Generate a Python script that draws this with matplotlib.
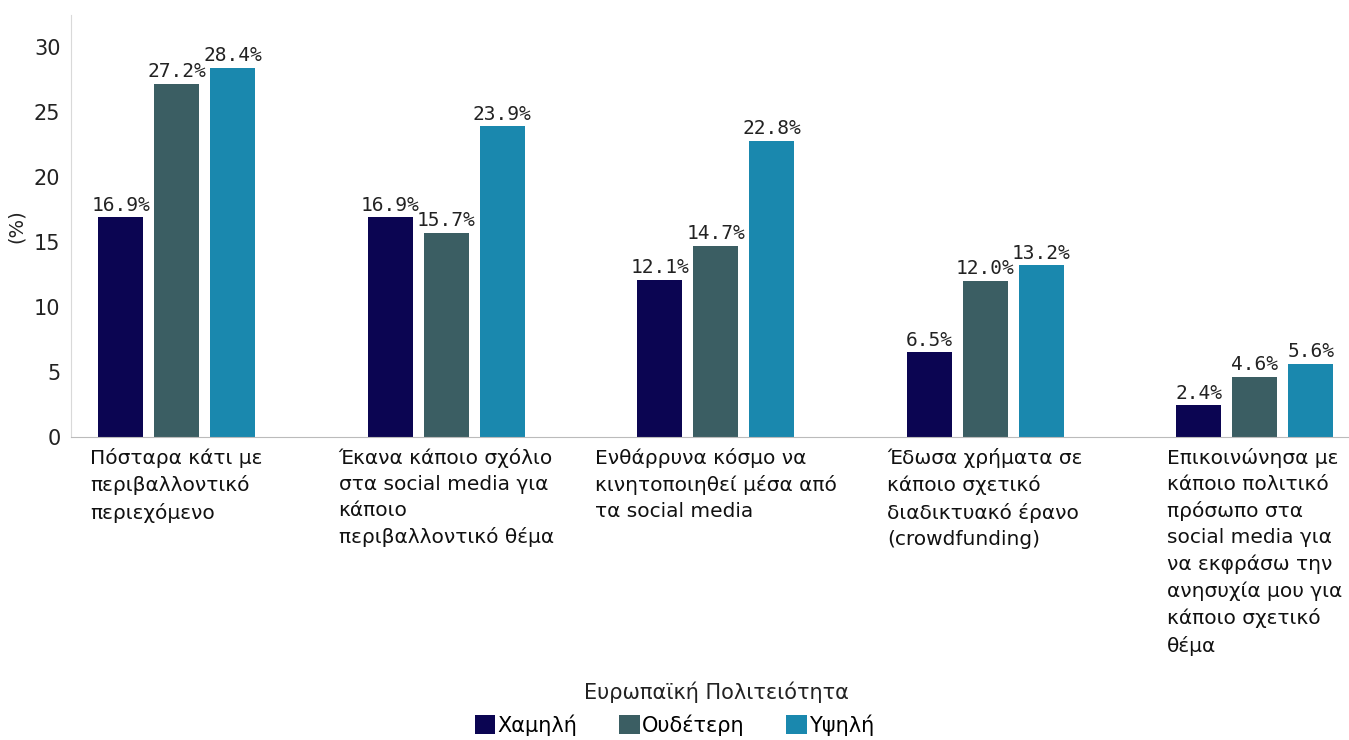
import matplotlib.pyplot as plt
import numpy as np

plt.rcParams['font.family'] = ['DejaVu Sans']

# data
categories = ['Πόσταρα κάτι με\nπεριβαλλοντικό\nπεριεχόμενο',
              'Έκανα κάποιο σχόλιο\nστα social media για\nκάποιο\nπεριβαλλοντικό θέμα',
              'Ενθάρρυνα κόσμο να\nκινητοποιηθεί μέσα από\nτα social media',
              'Έδωσα χρήματα σε\nκάποιο σχετικό\nδιαδικτυακό έρανο\n(crowdfunding)',
              'Επικοινώνησα με\nκάποιο πολιτικό\nπρόσωπο στα\nsocial media για\nνα εκφράσω την\nανησυχία μου για\nκάποιο σχετικό\nθέμα']
series = ['Χαμηλή', 'Ουδέτερη', 'Υψηλή']
low = [16.9, 16.9, 12.1, 6.5, 2.4]
neutral = [27.2, 15.7, 14.7, 12.0, 4.6]
high = [28.4, 23.9, 22.8, 13.2, 5.6]
colors = ['#0b0552', '#3b5e63', '#1a88ae']

fig = plt.figure(figsize=(13.49, 7.40), dpi=100)
ax = fig.add_axes([0.053, 0.41, 0.947, 0.57])

x = np.arange(len(categories))
w = 0.167
off = 0.208
for i, (vals, name) in enumerate(zip([low, neutral, high], series)):
    bars = ax.bar(x + (i - 1) * off, vals, width=w, color=colors[i], label=name, zorder=2)
    for b, v in zip(bars, vals):
        ax.text(b.get_x() + b.get_width() / 2, v + 0.2, '{:.1f}%'.format(v),
                ha='center', va='bottom', fontsize=14, color='#222222',
                family='DejaVu Sans Mono')

ax.set_xlim(-0.39, 4.35)
ax.set_ylim(0, 32.5)
ax.set_yticks(range(0, 31, 5))
ax.set_xticks(x)
ax.set_xticklabels(categories, fontsize=14.5, ha='center', va='top', multialignment='left',
                   color='#111111', linespacing=1.47)
ax.tick_params(axis='both', length=0)
ax.tick_params(axis='y', labelsize=15, pad=8, labelcolor='#222222')
ax.tick_params(axis='x', pad=8)
for s in ['top', 'right']:
    ax.spines[s].set_visible(False)
ax.spines['left'].set_color('#d9d9d9')
ax.spines['bottom'].set_color('#bbbbbb')
ax.set_ylabel('(%)', fontsize=14, labelpad=6, color='#222222')

# legend with title placed separately
fig.text(716 / 1349, 1 - 692 / 740, 'Ευρωπαϊκή Πολιτειότητα', ha='center', va='center',
         fontsize=15, color='#222222')
fig.legend(loc='lower center', bbox_to_anchor=(0.5, -0.014), ncol=3, frameon=False,
           fontsize=15, handlelength=1.0, handleheight=1.0, handletextpad=0.1,
           columnspacing=2.0, borderpad=0.2)

fig.savefig('out.png', dpi=100)
